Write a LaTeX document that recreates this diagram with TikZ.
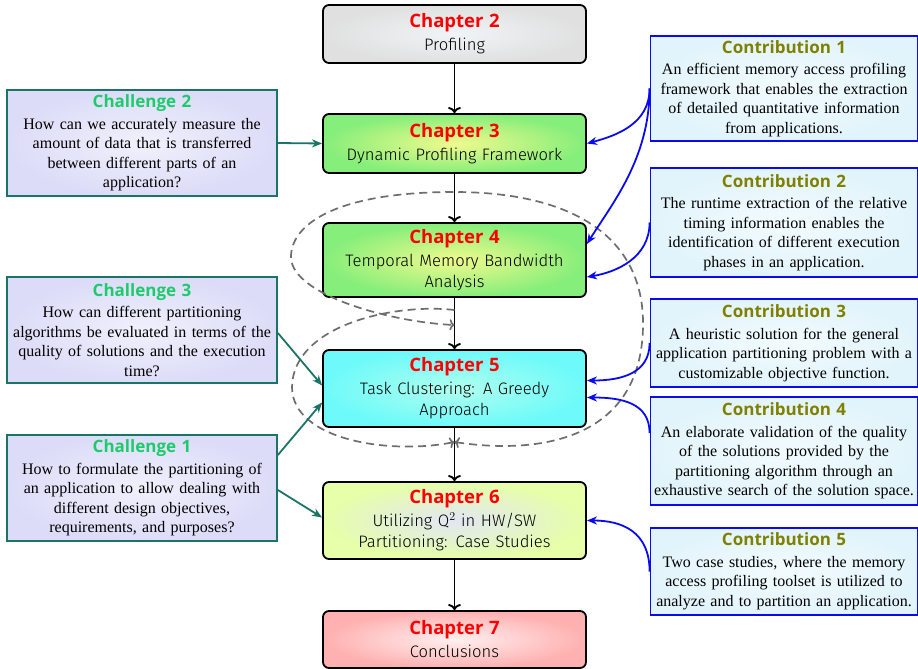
\documentclass[tikz,border=0pt]{standalone}
\usepackage{fontspec}
\setmainfont{Liberation Serif}
\newfontfamily\headfont{Open Sans}
\newfontfamily\chapfont{Fira Sans Light}
\usetikzlibrary{arrows.meta}

\definecolor{chapred}{HTML}{FF0000}
\definecolor{chalgreen}{HTML}{1ECB6C}
\definecolor{chalborder}{HTML}{1B7566}
\definecolor{chalout}{HTML}{DCDCF8}
\definecolor{chalin}{HTML}{F0F0FC}
\definecolor{contolive}{HTML}{808000}
\definecolor{contblue}{HTML}{0A0AF0}
\definecolor{contout}{HTML}{E2F4FB}
\definecolor{contin}{HTML}{F2FBFE}
\definecolor{loopgray}{HTML}{6E6E6E}
% chapter fills: centre / rim
\definecolor{greyin}{HTML}{F0F4F6}
\definecolor{greyout}{HTML}{E0E0E0}
\definecolor{greenin}{HTML}{F0FA8E}
\definecolor{greenout}{HTML}{86EE7A}
\definecolor{cyanin}{HTML}{B0FFEE}
\definecolor{cyanout}{HTML}{6EFAFA}
\definecolor{limein}{HTML}{E2E6F4}
\definecolor{limeout}{HTML}{E6FFA8}
\definecolor{pinkin}{HTML}{FFF0F0}
\definecolor{pinkout}{HTML}{FFB0B0}

\tikzset{
  chapbox/.style={draw=black, line width=1.8pt, rounded corners=6pt,
    minimum width=263pt, text width=262pt, align=center, inner sep=0pt,
    font=\chapfont\fontsize{16.6}{21}\selectfont},
  chalbox/.style={draw=chalborder, line width=1.8pt, inner color=chalin, outer color=chalout,
    minimum width=270pt, text width=269pt, align=center, inner sep=0pt,
    font=\fontsize{16}{19.5}\selectfont},
  contbox/.style={draw=contblue, line width=1.8pt, inner color=contin, outer color=contout,
    minimum width=267pt, text width=266pt, align=center, inner sep=0pt,
    font=\fontsize{16}{19.5}\selectfont},
  flowarrow/.style={draw=black, line width=1.9pt, -{To[length=6pt,width=13pt]}},
  chalarrow/.style={draw=chalborder, line width=1.8pt, -{Stealth[length=10pt,width=8pt,inset=3pt]}},
  contarrow/.style={draw=contblue, line width=1.8pt, -{Stealth[length=10pt,width=8pt,inset=3pt]}},
  loopline/.style={draw=loopgray, line width=1.7pt, dash pattern=on 8pt off 5pt},
}
\newcommand{\chaptitle}[1]{{\headfont\bfseries\fontsize{18.5}{23}\selectfont\color{chapred}#1}\\[2pt]}
\newcommand{\chaltitle}[1]{{\headfont\bfseries\fontsize{17}{22}\selectfont\color{chalgreen}#1}\\[2pt]}
\newcommand{\conttitle}[1]{{\headfont\bfseries\fontsize{17}{22}\selectfont\color{contolive}#1}\\[2pt]}

\begin{document}
\begin{tikzpicture}[x=1pt,y=-1pt]
\useasboundingbox (0,0) rectangle (918,669);

% chapters
\node[chapbox, minimum height=58pt, inner color=greyin, outer color=greyout] (ch2) at (454.5,34)
  {\chaptitle{Chapter 2}Profiling};
\node[chapbox, minimum height=59pt, inner color=greenin, outer color=greenout] (ch3) at (454.5,143.5)
  {\chaptitle{Chapter 3}Dynamic Profiling Framework};
\node[chapbox, minimum height=74pt, inner color=greenin, outer color=greenout] (ch4) at (454.5,260)
  {\chaptitle{Chapter 4}Temporal Memory Bandwidth\\Analysis};
\node[chapbox, minimum height=77pt, inner color=cyanin, outer color=cyanout] (ch5) at (454.5,388.5)
  {\chaptitle{Chapter 5}Task Clustering: A Greedy\\Approach};
\node[chapbox, minimum height=77pt, inner color=limein, outer color=limeout] (ch6) at (454.5,520.5)
  {\chaptitle{Chapter 6}Utilizing Q$^2$ in HW/SW\\Partitioning: Case Studies};
\node[chapbox, minimum height=57pt, inner color=pinkin, outer color=pinkout] (ch7) at (454.5,639.5)
  {\chaptitle{Chapter 7}Conclusions};

% challenges
\node[chalbox, minimum height=106pt] (chal2) at (142,143)
  {\chaltitle{Challenge 2}How can we accurately measure the\\amount of data that is transferred\\between different parts of an\\application?};
\node[chalbox, minimum height=106pt] (chal3) at (142,330)
  {\chaltitle{Challenge 3}How can different partitioning\\algorithms be evaluated in terms of the\\quality of solutions and the execution\\time?};
\node[chalbox, minimum height=106pt] (chal1) at (142,488)
  {\chaltitle{Challenge 1}How to formulate the partitioning of\\an application to allow dealing with\\different design objectives,\\requirements, and purposes?};

% contributions
\node[contbox, minimum height=105pt] (cb1) at (784,88.5)
  {\conttitle{Contribution 1}An efficient memory access profiling\\framework that enables the extraction\\of detailed quantitative information\\from applications.};
\node[contbox, minimum height=109pt] (cb2) at (784,222.5)
  {\conttitle{Contribution 2}The runtime extraction of the relative\\timing information enables the\\identification of different execution\\phases in an application.};
\node[contbox, minimum height=88pt] (cb3) at (784,343)
  {\conttitle{Contribution 3}A heuristic solution for the general\\application partitioning problem with a\\customizable objective function.};
\node[contbox, minimum height=108pt] (cb4) at (784,451)
  {\conttitle{Contribution 4}An elaborate validation of the quality\\of the solutions provided by the\\partitioning algorithm through an\\exhaustive search of the solution space.};
\node[contbox, minimum height=87pt] (cb5) at (784,571.5)
  {\conttitle{Contribution 5}Two case studies, where the memory\\access profiling toolset is utilized to\\analyze and to partition an application.};

% chapter flow
\draw[flowarrow] (ch2.south) -- (ch3.north);
\draw[flowarrow] (ch3.south) -- (ch4.north);
\draw[flowarrow] (ch4.south) -- (ch5.north);
\draw[flowarrow] (ch5.south) -- (ch6.north);
\draw[flowarrow] (ch6.south) -- (ch7.north);

% dashed feedback loops
\coordinate (la1) at (454.5,442);
\coordinate (la2) at (454.5,325);
\coordinate (lb1) at (454.5,310);
\coordinate (lb2) at (454.5,442);
\draw[loopline, {To[length=5pt,width=11pt]}-{To[length=5pt,width=11pt]}] (la1)
  .. controls (540,455) and (645,440) .. (643,320)
  .. controls (641,235) and (570,192) .. (454,192)
  .. controls (335,192) and (290,225) .. (291,258)
  .. controls (293,295) and (390,322) .. (la2);
\draw[loopline, -{To[length=5pt,width=11pt]}] (lb1)
  .. controls (395,303) and (293,325) .. (292,387)
  .. controls (292,440) and (390,455) .. (lb2);

% challenge links
\draw[chalarrow] (chal2.east) -- (ch3.west);
\draw[chalarrow] ([yshift=-3pt]chal3.east) -- ([yshift=3pt]ch5.west);
\draw[chalarrow] ([yshift=33pt]chal1.east) -- ([yshift=-14pt]ch5.west);
\draw[chalarrow] ([yshift=-2pt]chal1.east) -- ([yshift=3pt]ch6.west);

% contribution links
\draw[contarrow] (cb1.west) .. controls +(0,35) and +(30,-8) .. (ch3.east);
\draw[contarrow] (cb1.west) .. controls +(0,70) and +(25,-40) .. ([yshift=16pt]ch4.east);
\draw[contarrow] (cb2.west) .. controls +(0,35) and +(30,-5) .. ([yshift=-17pt]ch4.east);
\draw[contarrow] (cb3.west) .. controls +(0,30) and +(35,0) .. ([yshift=8pt]ch5.east);
\draw[contarrow] ([yshift=18pt]cb4.west) .. controls +(0,-30) and +(35,0) .. ([yshift=-9pt]ch5.east);
\draw[contarrow] (cb5.west) .. controls +(0,-40) and +(35,0) .. (ch6.east);
\end{tikzpicture}
\end{document}
